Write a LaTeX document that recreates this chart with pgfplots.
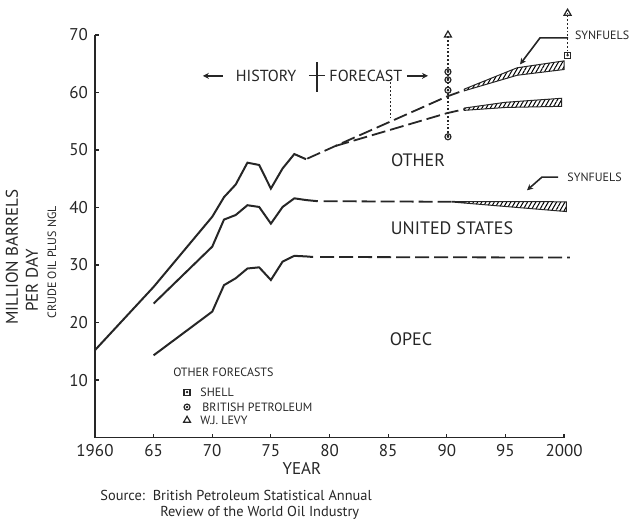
\documentclass[border=0pt]{standalone}
\usepackage{fontspec}
\setmainfont{PT Sans}
\usepackage{pgfplots}
\pgfplotsset{compat=1.18}
\usetikzlibrary{patterns.meta,arrows.meta}
\newcommand{\fs}[1]{\fontsize{#1}{#1}\selectfont}
\begin{document}
\begin{tikzpicture}
\begin{axis}[
  scale only axis, width=234.5pt, height=201.25pt,
  xmin=1960, xmax=2000, ymin=0, ymax=70,
  axis x line=bottom, axis y line=left,
  axis line style={-, line width=0.8pt, black!85},
  xtick={1960,1965,...,2000},
  xticklabels={1960,65,70,75,80,85,90,95,2000},
  ytick={10,20,...,70},
  tick align=inside, major tick length=2pt,
  tick style={line width=0.6pt, black!85},
  ticklabel style={font=\fs{8.5}, text=black!85},
  /pgf/number format/assume math mode=true,
  clip=false,
]
% history
\addplot[black!85, line width=1pt] coordinates {
 (1960,15.2) (1965,26.2) (1970,38.4) (1971,41.8) (1972,44.0) (1973,47.8)
 (1974,47.4) (1975,43.3) (1976,46.8) (1977,49.3) (1978,48.4)};
\addplot[black!85, line width=1pt] coordinates {
 (1965,23.3) (1970,33.2) (1971,37.9) (1972,38.7) (1973,40.4) (1974,40.1)
 (1975,37.2) (1976,40.1) (1977,41.6) (1978,41.3) (1979,41.1)};
\addplot[black!85, line width=1pt] coordinates {
 (1965,14.3) (1970,21.9) (1971,26.5) (1972,27.7) (1973,29.4) (1974,29.6)
 (1975,27.4) (1976,30.6) (1977,31.6) (1978,31.5) (1978.6,31.4)};
% forecasts
\addplot[black!85, line width=0.9pt, dash pattern=on 7pt off 2.5pt] coordinates {
 (1979.2,31.4) (2000.5,31.3)};
\addplot[black!85, line width=0.9pt, dash pattern=on 7pt off 2.5pt] coordinates {
 (1979.5,41.1) (1990.5,41.0)};
\addplot[black!85, line width=0.9pt, dash pattern=on 7pt off 2.5pt] coordinates {
 (1978.1,48.5) (1980.5,50.7) (1990,59.3) (1991.5,60.4)};
\addplot[black!85, line width=0.9pt, dash pattern=on 7pt off 2.5pt] coordinates {
 (1980.5,50.7) (1990,56.4) (1991.5,57.1)};
% synfuel bands
\addplot[draw=black!85, line width=0.5pt, pattern={Lines[angle=60,distance=1.8pt,line width=0.5pt]}] coordinates {
 (1991.5,60.6) (1996,64.3) (2000,65.5) (2000,64.0) (1996,63.0) (1991.5,60.3)} -- cycle;
\addplot[draw=black!85, line width=0.5pt, pattern={Lines[angle=60,distance=1.8pt,line width=0.5pt]}] coordinates {
 (1991.5,57.3) (1995,58.3) (1999.8,59.0) (1999.8,57.6) (1995,57.4) (1991.5,56.9)} -- cycle;
\addplot[draw=black!85, line width=0.5pt, pattern={Lines[angle=60,distance=1.8pt,line width=0.5pt]}] coordinates {
 (1990.5,41.05) (2000.2,41.0) (2000.2,39.3) (1990.5,40.95)} -- cycle;
% other forecasts
\addplot[black!85, densely dotted, line width=0.9pt] coordinates {(1990.1,52.3) (1990.1,70)};
\addplot[black!85, densely dotted, line width=0.9pt] coordinates {(2000.3,66.5) (2000.3,73.8)};
\addplot[black!85, densely dotted, line width=0.9pt] coordinates {(1985.2,55.5) (1985.2,63)};
\addplot[black!85, only marks, mark=triangle, mark size=2pt, mark options={line width=0.6pt}] coordinates {
 (1990.1,70) (2000.3,73.8) (1967.85,3.0)};
\addplot[black!85, only marks, mark=o, mark size=1.5pt, mark options={line width=0.6pt}] coordinates {
 (1990.1,63.6) (1990.1,62.2) (1990.1,60.4) (1990.1,52.3) (1967.85,5.3)};
\addplot[black!85, only marks, mark=square, mark size=1.5pt, mark options={line width=0.6pt}] coordinates {
 (2000.3,66.5) (1967.85,7.9)};
\addplot[black!85, only marks, mark=*, mark size=0.4pt] coordinates {
 (1990.1,63.6) (1990.1,62.2) (1990.1,60.4) (1990.1,52.3) (1967.85,5.3) (2000.3,66.5) (1967.85,7.9)};
% annotations
\node[font=\fs{8}, text=black!85] at (axis cs:1974.6,62.9) {HISTORY};
\node[font=\fs{8}, text=black!85] at (axis cs:1983.1,62.9) {FORECAST};
\draw[black!85, -{Stealth[length=3pt,width=3pt]}, line width=0.8pt] (axis cs:1970.9,62.9) -- (axis cs:1969.2,62.9);
\draw[black!85, -{Stealth[length=3pt,width=3pt]}, line width=0.8pt] (axis cs:1986.6,62.9) -- (axis cs:1988.4,62.9);
\draw[black!85, line width=0.6pt] (axis cs:1978.93,65.3) -- (axis cs:1978.93,60.1);
\draw[black!85, line width=0.6pt] (axis cs:1978.25,62.9) -- (axis cs:1979.6,62.9);
\node[font=\fs{9}, text=black!85] at (axis cs:1987.55,48.3) {OTHER};
\node[font=\fs{9}, text=black!85] at (axis cs:1990.45,36.4) {UNITED STATES};
\node[font=\fs{9}, text=black!85] at (axis cs:1986.95,17.1) {OPEC};
\node[font=\fs{6}, text=black!85, anchor=west, inner sep=0pt] at (axis cs:2000.9,70.0) {SYNFUELS};
\draw[black!85, -{Stealth[length=3pt,width=3pt]}, line width=0.8pt] (axis cs:2000.34,69.5) -- (axis cs:1997.95,69.5) -- (axis cs:1996.25,64.9);
\node[font=\fs{6}, text=black!85, anchor=west, inner sep=0pt] at (axis cs:2000.26,45.3) {SYNFUELS};
\draw[black!85, -{Stealth[length=3pt,width=3pt]}, line width=0.8pt] (axis cs:1999.49,45.3) -- (axis cs:1998.12,45.3) -- (axis cs:1996.84,43.0);
\node[font=\fs{6}, text=black!85, anchor=west, inner sep=0pt] at (axis cs:1966.65,11.4) {OTHER FORECASTS};
\node[font=\fs{6}, text=black!85, anchor=west, inner sep=0pt] at (axis cs:1968.96,7.9) {SHELL};
\node[font=\fs{6}, text=black!85, anchor=west, inner sep=0pt] at (axis cs:1969.13,5.3) {BRITISH PETROLEUM};
\node[font=\fs{6}, text=black!85, anchor=west, inner sep=0pt] at (axis cs:1968.96,3.0) {W.J. LEVY};
\node[font=\fs{8.5}, text=black!85, rotate=90] at (axis cs:1952.92,31.4) {MILLION BARRELS};
\node[font=\fs{8.5}, text=black!85, rotate=90] at (axis cs:1954.63,27.3) {PER DAY};
\node[font=\fs{6}, text=black!85, rotate=90] at (axis cs:1956.33,30.5) {CRUDE OIL PLUS NGL};
\node[font=\fs{8.5}, text=black!85] at (axis cs:1977.65,-5.3) {YEAR};
\node[font=\fs{7.2}, text=black!85, anchor=west, inner sep=0pt] at (axis cs:1960.43,-10.0) {Source:\ \ British Petroleum Statistical Annual};
\node[font=\fs{7.2}, text=black!85, anchor=west, inner sep=0pt] at (axis cs:1965.54,-13.1) {Review of the World Oil Industry};
\coordinate (bbA) at (axis cs:1951.90,76.09);
\coordinate (bbB) at (axis cs:2005.54,-14.0);
\end{axis}
\pgfresetboundingbox
\path (bbA) rectangle (bbB);
\end{tikzpicture}
\end{document}
